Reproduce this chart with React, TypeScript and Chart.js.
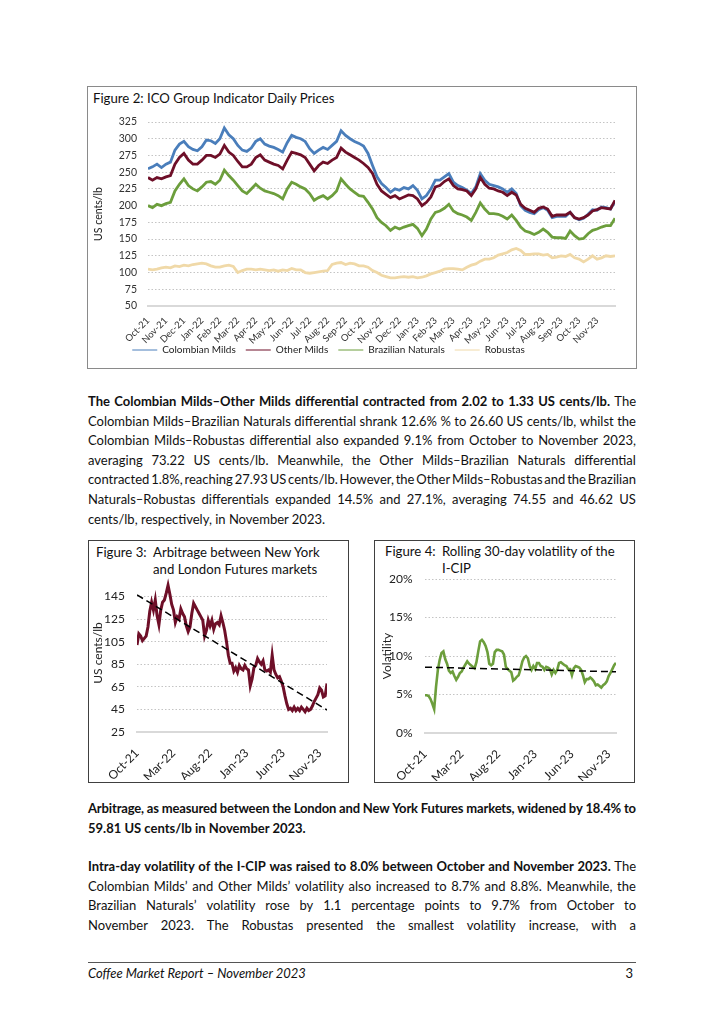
import React, { useEffect, useRef } from 'react';
import { Chart, registerables } from 'chart.js';

Chart.register(...registerables);

// ---------- data ----------
const MONTHS = ['Oct-21', 'Nov-21', 'Dec-21', 'Jan-22', 'Feb-22', 'Mar-22', 'Apr-22', 'May-22', 'Jun-22', 'Jul-22', 'Aug-22', 'Sep-22', 'Oct-22', 'Nov-22', 'Dec-22', 'Jan-23', 'Feb-23', 'Mar-23', 'Apr-23', 'May-23', 'Jun-23', 'Jul-23', 'Aug-23', 'Sep-23', 'Oct-23', 'Nov-23'];
// observations are roughly weekly: 4 per month, Oct-21 .. end of Nov-23
const STEP = 0.25;

const COLOMBIAN = [
  255, 258, 262, 257, 262, 265, 283, 292, 296, 288,
  284, 282, 288, 298, 297, 293, 300, 316, 306, 300,
  290, 283, 281, 286, 296, 300, 292, 289, 287, 284,
  280, 294, 305, 302, 300, 296, 285, 278, 283, 287,
  284, 290, 296, 312, 305, 300, 296, 293, 289, 278,
  260, 243, 233, 227, 220, 225, 223, 227, 225, 230,
  223, 210, 215, 225, 238, 238, 243, 248, 235, 230,
  227, 223, 218, 228, 248, 238, 232, 230, 228, 225,
  220, 225, 218, 200, 193, 190, 188, 194, 197, 193,
  182, 184, 184, 184, 190, 182, 179, 181, 187, 194,
  193, 198, 197, 195, 206,
];
const OTHER_MILDS = [
  242, 238, 242, 240, 243, 245, 262, 272, 278, 268,
  262, 262, 268, 275, 275, 272, 277, 290, 280, 275,
  266, 258, 258, 262, 272, 276, 268, 265, 262, 260,
  255, 268, 280, 278, 276, 272, 262, 252, 260, 265,
  263, 268, 272, 286, 280, 276, 272, 268, 263, 257,
  248, 232, 222, 217, 212, 215, 210, 213, 216, 215,
  210, 200, 205, 213, 228, 230, 236, 240, 230, 225,
  224, 222, 215, 225, 242, 232, 226, 225, 222, 220,
  215, 220, 216, 202, 196, 193, 190, 196, 198, 195,
  184, 186, 186, 186, 190, 182, 180, 182, 186, 192,
  194, 197, 196, 195, 208,
];
const BRAZILIAN = [
  200, 197, 202, 200, 203, 205, 222, 232, 240, 230,
  225, 222, 228, 235, 236, 232, 238, 253, 245, 238,
  230, 222, 218, 225, 232, 226, 222, 220, 218, 215,
  210, 225, 235, 232, 228, 225, 218, 208, 212, 215,
  210, 215, 222, 240, 232, 225, 220, 215, 214, 205,
  195, 182, 175, 170, 163, 168, 165, 168, 170, 172,
  166, 155, 165, 180, 190, 192, 196, 202, 192, 188,
  186, 183, 178, 190, 204, 195, 188, 188, 187, 184,
  180, 186, 178, 168, 162, 160, 157, 160, 165, 160,
  153, 152, 152, 151, 162, 155, 150, 151, 158, 163,
  165, 168, 170, 170, 181,
];
const ROBUSTAS = [
  105, 104, 105, 107, 108, 107, 110, 109, 111, 110,
  112, 113, 114, 113, 110, 108, 108, 110, 111, 109,
  100, 103, 105, 105, 104, 105, 104, 103, 104, 102,
  104, 103, 106, 104, 104, 100, 99, 100, 101, 102,
  103, 112, 114, 115, 112, 114, 113, 110, 110, 108,
  103, 100, 96, 94, 92, 92, 93, 94, 93, 94,
  92, 93, 95, 98, 100, 102, 105, 106, 106, 105,
  104, 108, 111, 113, 117, 120, 120, 122, 126, 128,
  130, 134, 136, 133, 127, 127, 128, 128, 126, 127,
  122, 123, 125, 124, 127, 122, 120, 116, 120, 125,
  120, 122, 125, 124, 125,
];

const ARBITRAGE = [
  102, 112, 110, 106, 108, 110, 118, 132, 140, 133,
  142, 128, 120, 133, 140, 142, 148, 155, 147, 138,
  133, 122, 127, 125, 134, 130, 127, 119, 114, 118,
  130, 139, 136, 133, 130, 127, 124, 110, 115, 124,
  119, 124, 116, 121, 122, 120, 128, 122, 115, 105,
  93, 86, 86, 79, 82, 78, 84, 81, 80, 84,
  81, 80, 66, 72, 82, 84, 90, 87, 85, 88,
  80, 79, 80, 78, 93, 80, 76, 73, 74, 70,
  65, 57, 50, 45, 46, 44, 47, 44, 46, 44,
  47, 45, 43, 46, 44, 45, 48, 52, 55, 58,
  64, 62, 56, 57, 68,
];
const ARBITRAGE_TREND = [146.5, 44.5]; // linear trend at first and last date

const VOLATILITY = [
  4.9, 4.9, 4.8, 4.4, 3.8, 3.1, 6.0, 8.2, 9.5, 10.4,
  10.6, 9.6, 9.0, 8.1, 7.8, 8.0, 7.4, 6.9, 7.3, 7.8,
  8.0, 8.5, 8.9, 9.3, 9.0, 8.8, 8.6, 8.4, 9.2, 10.6,
  11.9, 12.1, 11.8, 11.3, 10.5, 9.0, 8.8, 9.0, 10.5, 10.8,
  10.8, 10.7, 10.6, 10.2, 8.6, 8.3, 8.1, 7.9, 6.8, 7.0,
  7.3, 7.5, 8.3, 9.3, 9.8, 10.0, 9.7, 8.7, 8.2, 8.7,
  8.3, 9.1, 9.1, 8.7, 8.6, 8.2, 8.6, 8.5, 8.3, 7.6,
  8.2, 7.8, 8.2, 9.1, 9.2, 9.0, 8.8, 8.7, 8.3, 8.3,
  7.5, 8.4, 8.7, 8.6, 8.5, 8.2, 7.5, 6.6, 7.0, 7.0,
  7.2, 7.0, 6.7, 6.2, 6.3, 6.1, 5.9, 6.2, 6.4, 6.7,
  7.4, 7.8, 8.3, 8.8, 9.1,
];
const VOLATILITY_TREND = [8.55, 7.95];

// ---------- helpers ----------
const FONT = 'Lato, "Noto Sans", sans-serif';
const BLUE = '#4A7EBB';
const MAROON = '#6E0F28';
const GREEN = '#6C9E3C';
const BEIGE = '#F0D9A8';
const GRID = '#C4C4C4';
const BASE = '#D9D9D9';
const CLEAR = 'rgba(0,0,0,0)';

const toPoints = (arr: number[]) => arr.map((v, i) => ({ x: i * STEP, y: v }));
const trendPoints = (ends: number[], n: number) => [
  { x: 0, y: ends[0] },
  { x: (n - 1) * STEP, y: ends[1] },
];
const lastX = (COLOMBIAN.length - 1) * STEP;

function useChart(ref: React.RefObject<HTMLCanvasElement>, make: () => any) {
  useEffect(() => {
    if (!ref.current) return;
    const chart = new Chart(ref.current, make());
    return () => chart.destroy();
  }, []);
}

const legendShift = {
  id: 'legendShift',
  afterLayout(chart: any, _args: any, opts: any) {
    const l = chart.legend;
    if (!l || !opts) return;
    if (opts.dx) { l.left += opts.dx; l.right += opts.dx; }
    if (opts.dy) { l.top += opts.dy; l.bottom += opts.dy; }
  },
};

function fig2Config() {
  return {
    type: 'line',
    data: {
      datasets: [
        { label: 'Colombian Milds', data: toPoints(COLOMBIAN), borderColor: BLUE, backgroundColor: BLUE, order: 4 },
        { label: 'Other Milds', data: toPoints(OTHER_MILDS), borderColor: MAROON, backgroundColor: MAROON, order: 3 },
        { label: 'Brazilian Naturals', data: toPoints(BRAZILIAN), borderColor: GREEN, backgroundColor: GREEN, order: 2 },
        { label: 'Robustas', data: toPoints(ROBUSTAS), borderColor: BEIGE, backgroundColor: BEIGE, order: 1 },
      ],
    },
    plugins: [legendShift],
    options: {
      responsive: false,
      animation: false,
      devicePixelRatio: 1,
      elements: { point: { radius: 0 }, line: { borderWidth: 2.8, tension: 0 } },
      layout: { padding: { left: 0, right: 20, top: 12, bottom: 0 } },
      scales: {
        x: {
          type: 'linear',
          min: 0,
          max: lastX,
          afterBuildTicks: (s: any) => { s.ticks = MONTHS.map((_, i) => ({ value: i })); },
          afterFit: (s: any) => { s.height = 40; },
          grid: { display: false },
          border: { display: true, color: BASE, width: 2 },
          ticks: {
            autoSkip: false, maxRotation: 45, minRotation: 45, padding: 1,
            font: { family: FONT, size: 9.5 }, color: '#333',
            callback: (v: number) => MONTHS[v],
          },
        },
        y: {
          min: 50, max: 325,
          afterFit: (s: any) => { s.width = 60; },
          ticks: { stepSize: 25, padding: 0, font: { family: FONT, size: 10.5 }, color: '#333' },
          grid: { color: GRID, lineWidth: 1, drawTicks: true, tickLength: 11, tickColor: CLEAR },
          border: { display: false, dash: [1.5, 2] },
          title: { display: true, text: 'US cents/lb', font: { family: FONT, size: 10.5 }, color: '#222', padding: { top: 4, bottom: 0 } },
        },
      },
      plugins: {
        tooltip: { enabled: false },
        legendShift: { dx: -23, dy: -11 },
        legend: {
          position: 'bottom',
          labels: {
            usePointStyle: true, pointStyle: 'line', pointStyleWidth: 25, padding: 10,
            font: { family: FONT, size: 10 }, color: '#222',
            sort: (a: any, b: any) => a.datasetIndex - b.datasetIndex,
          },
        },
      },
    },
  };
}

function smallConfig(opts: {
  series: number[]; trend: number[]; color: string; width: number;
  yMin: number; yMax: number; yTop: number; step: number; yTitle: string;
  fmt: (v: number) => string; axisWidth: number; titlePad: number; tickGap: number; padRight: number;
}) {
  const tickMonths = MONTHS.map((_, i) => i).filter((i) => i % 5 === 0);
  return {
    type: 'line',
    data: {
      datasets: [
        { label: 'series', data: toPoints(opts.series), borderColor: opts.color, borderWidth: opts.width, order: 2 },
        { label: 'trend', data: trendPoints(opts.trend, opts.series.length), borderColor: '#000', borderWidth: 1.5, borderDash: [7, 4], order: 1 },
      ],
    },
    options: {
      responsive: false,
      animation: false,
      devicePixelRatio: 1,
      elements: { point: { radius: 0 }, line: { tension: 0 } },
      layout: { padding: { left: 0, right: opts.padRight, top: 8, bottom: 0 } },
      scales: {
        x: {
          type: 'linear',
          min: 0,
          max: lastX,
          afterBuildTicks: (s: any) => { s.ticks = tickMonths.map((v) => ({ value: v })); },
          afterFit: (s: any) => { s.height = 48; },
          grid: { display: false },
          border: { display: true, color: BASE, width: 2 },
          ticks: {
            autoSkip: false, maxRotation: 45, minRotation: 45, padding: 6,
            font: { family: FONT, size: 12 }, color: '#222',
            callback: (v: number) => MONTHS[v],
          },
        },
        y: {
          min: opts.yMin, max: opts.yMax,
          afterBuildTicks: (s: any) => { s.ticks = s.ticks.filter((t: any) => t.value <= opts.yTop); },
          afterFit: (s: any) => { s.width = opts.axisWidth; },
          ticks: { stepSize: opts.step, padding: 0, font: { family: FONT, size: 12 }, color: '#222', callback: opts.fmt },
          grid: { color: GRID, lineWidth: 1, drawTicks: true, tickLength: opts.tickGap, tickColor: CLEAR },
          border: { display: false, dash: [1.5, 2] },
          title: { display: true, text: opts.yTitle, font: { family: FONT, size: 12 }, color: '#222', padding: { top: opts.titlePad, bottom: 0 } },
        },
      },
      plugins: { tooltip: { enabled: false }, legend: { display: false } },
    },
  };
}

// ---------- page pieces ----------
const BODY: React.CSSProperties = { fontFamily: FONT, fontSize: 13, color: '#111' };
type Seg = [string, boolean?];

function TextLine({ top, segs, last, ls }: { top: number; segs: Seg[]; last?: boolean; ls?: number }) {
  const base: React.CSSProperties = {
    ...BODY, position: 'absolute', left: 88, top, width: 548, height: 20, lineHeight: '20px', whiteSpace: 'nowrap',
    letterSpacing: ls || 0,
  };
  if (last) {
    return (
      <div style={base}>
        {segs.map(([t, b], i) => <span key={i} style={{ fontWeight: b ? 700 : 400 }}>{t}</span>)}
      </div>
    );
  }
  const words: { w: string; b: boolean }[] = [];
  segs.forEach(([t, b]) => t.split(' ').filter(Boolean).forEach((w) => words.push({ w, b: !!b })));
  return (
    <div style={{ ...base, display: 'flex', justifyContent: 'space-between' }}>
      {words.map((x, i) => <span key={i} style={{ fontWeight: x.b ? 700 : 400 }}>{x.w}</span>)}
    </div>
  );
}

const abs = (left: number, top: number, extra: React.CSSProperties = {}): React.CSSProperties => ({ position: 'absolute', left, top, ...extra });

export default function App() {
  const c2 = useRef<HTMLCanvasElement>(null);
  const c3 = useRef<HTMLCanvasElement>(null);
  const c4 = useRef<HTMLCanvasElement>(null);

  useChart(c2, fig2Config);
  useChart(c3, () => smallConfig({
    series: ARBITRAGE, trend: ARBITRAGE_TREND, color: MAROON, width: 3,
    yMin: 25, yMax: 165, yTop: 145, step: 20, yTitle: 'US cents/lb', fmt: (v) => String(v),
    axisWidth: 48, titlePad: 2, tickGap: 12, padRight: 20,
  }));
  useChart(c4, () => smallConfig({
    series: VOLATILITY, trend: VOLATILITY_TREND, color: GREEN, width: 2.6,
    yMin: 0, yMax: 20, yTop: 20, step: 5, yTitle: 'Volatility', fmt: (v) => v + '%',
    axisWidth: 50, titlePad: 4.5, tickGap: 12.5, padRight: 17,
  }));

  const P1 = 391;
  const LH = 19.6;
  const P2 = 798;
  const P3 = 856;

  return (
    <div style={{ position: 'absolute', left: 0, top: 0, width: 724, height: 1024, background: '#fff', overflow: 'hidden' }}>
      {/* Figure 2 */}
      <div style={abs(87, 86, { width: 548, height: 281, border: '1px solid #8a8a8a' })} />
      <div style={{ ...BODY, ...abs(93, 90), fontSize: 13.2, lineHeight: '16px' }}>Figure 2: ICO Group Indicator Daily Prices</div>
      <canvas ref={c2} width={547} height={266} style={abs(88, 110, { width: 547, height: 266 })} />

      {/* Paragraph 1 */}
      <TextLine top={P1} segs={[['The Colombian Milds–Other Milds differential contracted from 2.02 to 1.33 US cents/lb.', true], [' The']]} />
      <TextLine top={P1 + LH} segs={[['Colombian Milds–Brazilian Naturals differential shrank 12.6% % to 26.60 US cents/lb, whilst the']]} />
      <TextLine top={P1 + LH * 2} segs={[['Colombian Milds–Robustas differential also expanded 9.1% from October to November 2023,']]} />
      <TextLine top={P1 + LH * 3} segs={[['averaging 73.22 US cents/lb. Meanwhile, the Other Milds–Brazilian Naturals differential']]} />
      <TextLine top={P1 + LH * 4} segs={[['contracted 1.8%, reaching 27.93 US cents/lb. However, the Other Milds–Robustas and the Brazilian']]} />
      <TextLine top={P1 + LH * 5} segs={[['Naturals–Robustas differentials expanded 14.5% and 27.1%, averaging 74.55 and 46.62 US']]} />
      <TextLine top={P1 + LH * 6} last segs={[['cents/lb, respectively, in November 2023.']]} />

      {/* Figure 3 */}
      <div style={abs(88, 540, { width: 259, height: 241, border: '1px solid #404040' })} />
      <div style={{ ...BODY, ...abs(96, 544), fontSize: 13.2, lineHeight: '17px' }}>Figure 3:</div>
      <div style={{ ...BODY, ...abs(153, 544), fontSize: 13.2, lineHeight: '17px' }}>Arbitrage between New York<br />and London Futures markets</div>
      <canvas ref={c3} width={258} height={214} style={abs(89, 566, { width: 258, height: 214 })} />

      {/* Figure 4 */}
      <div style={abs(374, 540, { width: 259, height: 241, border: '1px solid #404040' })} />
      <div style={{ ...BODY, ...abs(385, 543), fontSize: 13.2, lineHeight: '17px' }}>Figure 4:</div>
      <div style={{ ...BODY, ...abs(442, 543), fontSize: 13.2, lineHeight: '17px' }}>Rolling 30-day volatility of the<br />I-CIP</div>
      <canvas ref={c4} width={258} height={210} style={abs(375, 571, { width: 258, height: 210 })} />

      {/* Paragraph 2 */}
      <TextLine top={P2} ls={-0.15} segs={[['Arbitrage, as measured between the London and New York Futures markets, widened by 18.4% to', true]]} />
      <TextLine top={P2 + LH} last segs={[['59.81 US cents/lb in November 2023.', true]]} />

      {/* Paragraph 3 */}
      <TextLine top={P3} segs={[['Intra-day volatility of the I-CIP was raised to 8.0% between October and November 2023.', true], [' The']]} />
      <TextLine top={P3 + LH} segs={[['Colombian Milds’ and Other Milds’ volatility also increased to 8.7% and 8.8%. Meanwhile, the']]} />
      <TextLine top={P3 + LH * 2} segs={[['Brazilian Naturals’ volatility rose by 1.1 percentage points to 9.7% from October to']]} />
      <TextLine top={P3 + LH * 3} segs={[['November 2023. The Robustas presented the smallest volatility increase, with a']]} />

      {/* Footer */}
      <div style={abs(88, 962, { width: 548, height: 0, borderTop: '1px solid #555' })} />
      <div style={{ ...BODY, ...abs(88, 964), lineHeight: '18px', fontStyle: 'italic' }}>Coffee Market Report – November 2023</div>
      <div style={{ ...BODY, ...abs(600, 964), width: 33, textAlign: 'right', lineHeight: '18px' }}>3</div>
    </div>
  );
}
